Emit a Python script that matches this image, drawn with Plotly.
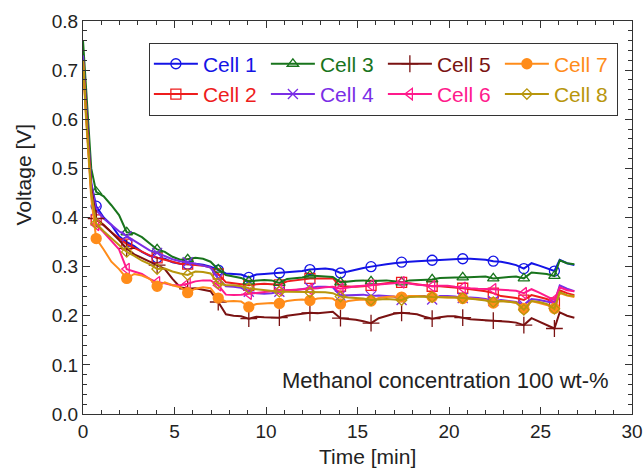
import plotly.graph_objects as go

# Sampling times [min]
time_min = [0.0, 0.15, 0.45, 0.72, 1.13, 1.55, 1.97, 2.39, 2.80, 3.22,
            3.64, 4.05, 4.47, 4.89, 5.31, 5.72, 6.14, 6.56, 6.97, 7.39,
            7.81, 8.23, 8.64, 9.06, 9.48, 9.90, 10.31, 10.73, 11.15, 11.57,
            11.98, 12.40, 12.82, 13.24, 13.65, 14.07, 14.49, 14.91, 15.32, 15.74,
            16.16, 16.58, 16.99, 17.41, 17.83, 18.25, 18.66, 19.08, 19.50, 19.92,
            20.33, 20.75, 21.17, 21.59, 22.00, 22.42, 22.84, 23.26, 23.67, 24.09,
            24.51, 24.93, 25.34, 25.76, 26.05, 26.45, 26.85]

# Cell voltages [V]
cell1 = [0.735, 0.640, 0.470, 0.423, 0.400, 0.385, 0.362, 0.350, 0.342, 0.330,
         0.322, 0.318, 0.316, 0.309, 0.306, 0.305, 0.306, 0.304, 0.300, 0.293,
         0.286, 0.285, 0.284, 0.278, 0.284, 0.285, 0.286, 0.287, 0.288, 0.290,
         0.291, 0.294, 0.295, 0.296, 0.294, 0.287, 0.290, 0.294, 0.297, 0.300,
         0.303, 0.305, 0.307, 0.309, 0.310, 0.311, 0.312, 0.313, 0.314, 0.315,
         0.316, 0.316, 0.316, 0.315, 0.314, 0.311, 0.310, 0.307, 0.303, 0.296,
         0.307, 0.302, 0.297, 0.291, 0.314, 0.307, 0.303]
cell2 = [0.720, 0.630, 0.460, 0.395, 0.385, 0.370, 0.358, 0.346, 0.338, 0.330,
         0.323, 0.318, 0.314, 0.309, 0.306, 0.305, 0.303, 0.302, 0.298, 0.285,
         0.268, 0.266, 0.265, 0.262, 0.264, 0.265, 0.264, 0.263, 0.270, 0.272,
         0.273, 0.276, 0.276, 0.276, 0.276, 0.260, 0.259, 0.259, 0.260, 0.262,
         0.265, 0.266, 0.268, 0.268, 0.266, 0.264, 0.262, 0.260, 0.260, 0.259,
         0.258, 0.256, 0.254, 0.252, 0.250, 0.246, 0.240, 0.238, 0.236, 0.232,
         0.242, 0.238, 0.234, 0.226, 0.252, 0.246, 0.242]
cell3 = [0.760, 0.670, 0.500, 0.452, 0.443, 0.425, 0.405, 0.370, 0.368, 0.360,
         0.348, 0.335, 0.330, 0.320, 0.314, 0.315, 0.318, 0.316, 0.310, 0.294,
         0.283, 0.280, 0.277, 0.270, 0.272, 0.273, 0.272, 0.267, 0.275, 0.276,
         0.278, 0.282, 0.281, 0.280, 0.279, 0.268, 0.270, 0.271, 0.272, 0.270,
         0.271, 0.272, 0.270, 0.268, 0.272, 0.273, 0.274, 0.274, 0.277, 0.278,
         0.278, 0.278, 0.279, 0.280, 0.280, 0.276, 0.278, 0.279, 0.280, 0.276,
         0.288, 0.286, 0.285, 0.281, 0.313, 0.307, 0.305]
cell4 = [0.730, 0.640, 0.470, 0.415, 0.398, 0.385, 0.372, 0.362, 0.352, 0.342,
         0.333, 0.328, 0.322, 0.315, 0.311, 0.309, 0.306, 0.302, 0.298, 0.276,
         0.260, 0.259, 0.257, 0.249, 0.246, 0.245, 0.246, 0.249, 0.252, 0.252,
         0.254, 0.257, 0.259, 0.259, 0.258, 0.241, 0.242, 0.242, 0.243, 0.240,
         0.241, 0.240, 0.239, 0.232, 0.239, 0.240, 0.240, 0.233, 0.240, 0.240,
         0.239, 0.236, 0.237, 0.236, 0.234, 0.230, 0.232, 0.230, 0.228, 0.222,
         0.234, 0.232, 0.229, 0.226, 0.262, 0.255, 0.250]
cell5 = [0.720, 0.630, 0.460, 0.398, 0.385, 0.370, 0.354, 0.337, 0.325, 0.318,
         0.310, 0.303, 0.295, 0.275, 0.258, 0.255, 0.256, 0.253, 0.250, 0.228,
         0.203, 0.200, 0.199, 0.194, 0.198, 0.197, 0.197, 0.196, 0.200, 0.202,
         0.204, 0.206, 0.205, 0.207, 0.208, 0.195, 0.194, 0.192, 0.189, 0.185,
         0.195, 0.200, 0.204, 0.206, 0.205, 0.203, 0.198, 0.194, 0.197, 0.199,
         0.199, 0.196, 0.193, 0.192, 0.191, 0.190, 0.190, 0.188, 0.186, 0.181,
         0.195, 0.188, 0.182, 0.174, 0.207, 0.200, 0.196]
cell6 = [0.720, 0.620, 0.450, 0.385, 0.370, 0.352, 0.335, 0.295, 0.290, 0.285,
         0.275, 0.268, 0.266, 0.262, 0.262, 0.265, 0.270, 0.272, 0.272, 0.262,
         0.243, 0.242, 0.243, 0.245, 0.247, 0.249, 0.250, 0.252, 0.252, 0.253,
         0.253, 0.254, 0.256, 0.258, 0.259, 0.255, 0.258, 0.260, 0.261, 0.262,
         0.263, 0.265, 0.266, 0.268, 0.265, 0.263, 0.262, 0.260, 0.261, 0.261,
         0.259, 0.257, 0.256, 0.255, 0.255, 0.254, 0.253, 0.252, 0.251, 0.246,
         0.254, 0.247, 0.240, 0.232, 0.258, 0.252, 0.250]
cell7 = [0.720, 0.610, 0.440, 0.357, 0.335, 0.310, 0.295, 0.276, 0.285, 0.282,
         0.275, 0.260, 0.268, 0.262, 0.258, 0.247, 0.255, 0.258, 0.256, 0.236,
         0.229, 0.230, 0.229, 0.218, 0.224, 0.225, 0.226, 0.225, 0.230, 0.232,
         0.233, 0.231, 0.235, 0.236, 0.235, 0.224, 0.230, 0.232, 0.233, 0.230,
         0.236, 0.238, 0.239, 0.238, 0.240, 0.240, 0.239, 0.238, 0.238, 0.237,
         0.237, 0.235, 0.235, 0.234, 0.232, 0.226, 0.230, 0.229, 0.226, 0.215,
         0.230, 0.226, 0.222, 0.215, 0.246, 0.241, 0.238]
cell8 = [0.720, 0.620, 0.450, 0.388, 0.372, 0.358, 0.345, 0.330, 0.322, 0.312,
         0.305, 0.295, 0.296, 0.290, 0.286, 0.283, 0.290, 0.289, 0.286, 0.266,
         0.262, 0.262, 0.260, 0.256, 0.254, 0.252, 0.251, 0.249, 0.249, 0.249,
         0.249, 0.248, 0.249, 0.248, 0.246, 0.239, 0.237, 0.236, 0.235, 0.232,
         0.233, 0.234, 0.233, 0.232, 0.238, 0.239, 0.239, 0.238, 0.238, 0.237,
         0.237, 0.236, 0.235, 0.233, 0.231, 0.228, 0.230, 0.229, 0.227, 0.212,
         0.230, 0.228, 0.224, 0.214, 0.248, 0.242, 0.240]

cell_names = ["Cell 1", "Cell 2", "Cell 3", "Cell 4", "Cell 5", "Cell 6", "Cell 7", "Cell 8"]
cell_values = [cell1, cell2, cell3, cell4, cell5, cell6, cell7, cell8]
cell_colors = ["#1414e6", "#ee1c1c", "#18741c", "#7a2ee6", "#7a1212", "#ff1a8c", "#ff8c1a", "#b8960c"]
cell_symbols = ["circle-open", "square-open", "triangle-up-open", "x-thin-open",
                "cross-thin-open", "triangle-left-open", "circle", "diamond-open"]
cell_sizes = [10, 10, 10, 10, 12, 10, 10, 8]

x_ticks = [0, 5, 10, 15, 20, 25, 30]
y_ticks = [0.0, 0.1, 0.2, 0.3, 0.4, 0.5, 0.6, 0.7, 0.8]

MARK_START, MARK_STEP = 3, 4

fig = go.Figure()

for name, vals, col, sym, sz in zip(cell_names, cell_values, cell_colors, cell_symbols, cell_sizes):
    fig.add_trace(go.Scatter(
        x=time_min, y=vals, mode="lines", line=dict(color=col, width=2),
        legendgroup=name, showlegend=False, hoverinfo="skip"))
    fig.add_trace(go.Scatter(
        x=time_min[MARK_START::MARK_STEP], y=vals[MARK_START::MARK_STEP], mode="markers",
        marker=dict(symbol=sym, size=sz, color=col, line=dict(color=col, width=1.3)),
        legendgroup=name, showlegend=False))

# legend entries, two rows of four
for i in [0, 2, 4, 6, 1, 3, 5, 7]:
    fig.add_trace(go.Scatter(
        x=[None], y=[None], mode="lines+markers",
        name=f"<span style='color:{cell_colors[i]}'>{cell_names[i]}</span>",
        line=dict(color=cell_colors[i], width=2),
        marker=dict(symbol=cell_symbols[i], size=cell_sizes[i], color=cell_colors[i],
                    line=dict(color=cell_colors[i], width=1.3)),
        legendgroup=cell_names[i]))

axis_common = dict(
    showline=True, linecolor="#333333", linewidth=1, mirror="allticks",
    ticks="inside", ticklen=7, tickwidth=1, tickcolor="#333333",
    showgrid=False, zeroline=False, automargin=False,
    tickfont=dict(size=19, color="#222222"),
)

fig.update_xaxes(range=[0, 30], tickvals=x_ticks, ticktext=[str(v) for v in x_ticks],
                 minor=dict(dtick=1, tick0=0, ticks="inside", ticklen=4, tickcolor="#333333", showgrid=False),
                 **axis_common)
fig.update_yaxes(range=[0, 0.8], tickvals=y_ticks, ticktext=[f"{v:.1f}" for v in y_ticks],
                 minor=dict(dtick=0.02, tick0=0, ticks="inside", ticklen=4, tickcolor="#333333", showgrid=False),
                 **axis_common)

fig.add_annotation(text="Voltage [V]", xref="paper", yref="paper", x=-0.109, y=0.61,
                   textangle=-90, showarrow=False, font=dict(size=21, color="#222222"),
                   xanchor="center", yanchor="middle")
fig.add_annotation(text="Time [min]", xref="paper", yref="paper", x=0.518, y=-0.109,
                   showarrow=False, font=dict(size=21, color="#222222"),
                   xanchor="center", yanchor="middle")
fig.add_annotation(text="Methanol concentration 100 wt-%", xref="paper", yref="paper",
                   x=0.962, y=0.084, showarrow=False, font=dict(size=22, color="#222222"),
                   xanchor="right", yanchor="middle")

fig.update_layout(
    width=644, height=470,
    margin=dict(l=83, r=12, t=21, b=56, autoexpand=False),
    plot_bgcolor="white", paper_bgcolor="white",
    font=dict(family="Liberation Sans, Arial, sans-serif", size=19, color="#222222"),
    legend=dict(orientation="h", x=0.12, y=0.945, xanchor="left", yanchor="top",
                bgcolor="white", bordercolor="#333333", borderwidth=1,
                font=dict(size=21), itemwidth=44, entrywidth=58,
                tracegroupgap=0, itemclick=False),
    showlegend=True,
)

fig.write_html("out.html")
